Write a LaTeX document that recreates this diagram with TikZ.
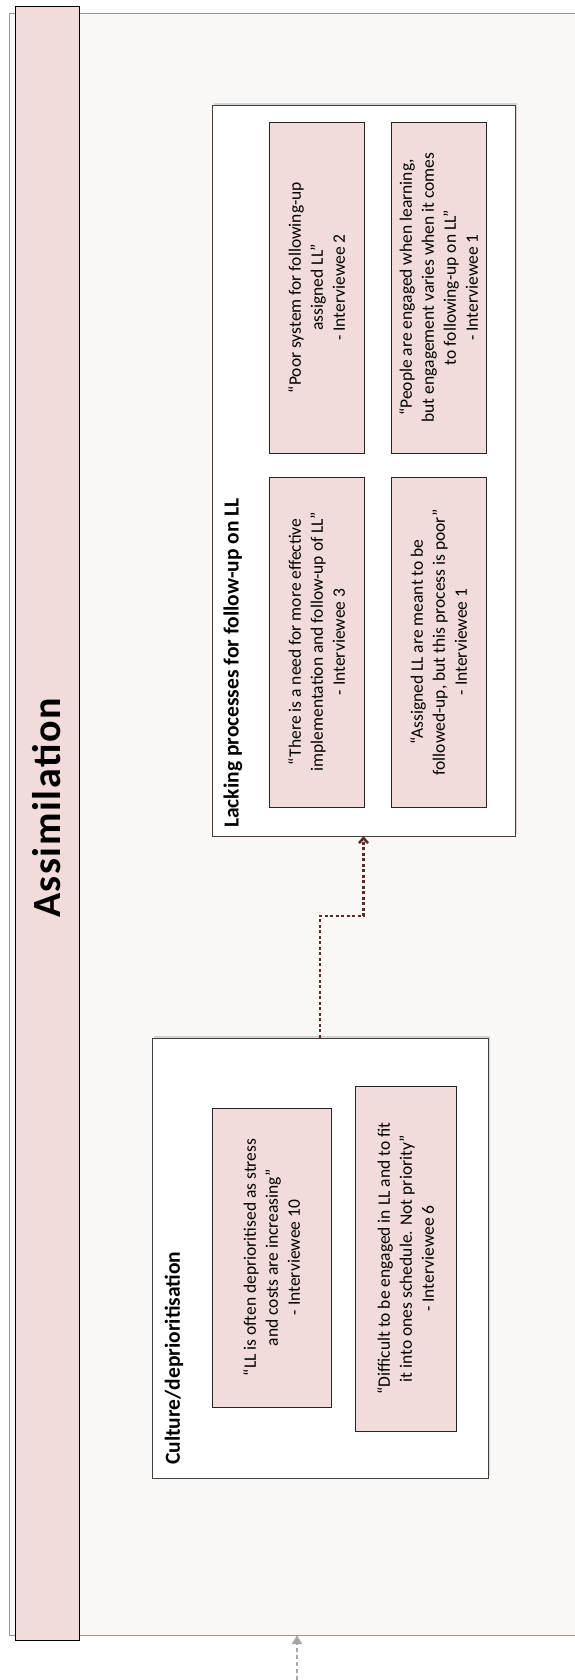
\documentclass[tikz,border=0pt]{standalone}
\usepackage{fontspec}
\setmainfont{Carlito}
\usetikzlibrary{shadows,arrows.meta}
\definecolor{panelbg}{HTML}{FAF7F5}
\definecolor{pinkbox}{HTML}{F2DCDB}
\definecolor{linkred}{HTML}{5B2A2A}
\tikzset{
  quote/.style={draw=black!85, fill=pinkbox, rotate=90, align=center, inner sep=0pt,
    font=\fontsize{17.5}{22}\selectfont},
  group/.style={draw=black!75, fill=white, inner sep=0pt,
    drop shadow={opacity=0.3, shadow xshift=2pt, shadow yshift=2pt}},
  grouptitle/.style={rotate=90, anchor=west, inner sep=0pt, font=\fontsize{21.5}{26}\selectfont\bfseries},
  link/.style={linkred, line width=2.6pt, dash pattern=on 3pt off 2.5pt, -{Straight Barb[length=5pt,width=9pt]}},
}
\begin{document}
\begin{tikzpicture}[x=1pt, y=-1pt]
\useasboundingbox (0,0) rectangle (574,1680);
% background panel and title bar
\node (panel) [draw=black!40, fill=panelbg, minimum width=571pt, minimum height=1622pt, inner sep=0pt] at (294.5,824) {};
\node (bar) [draw=black, line width=1pt, fill=pinkbox, minimum width=64.5pt, minimum height=1633.5pt] at (47.25,823.25) {};
\node (title) [rotate=90, font=\fontsize{40}{44}\selectfont\bfseries\addfontfeature{LetterSpace=4}] at (47,808) {Assimilation};
% groups
\node (lacking) [group, minimum width=303pt, minimum height=731pt] at (363.5,470.5) {};
\node (lackingtitle) [grouptitle] at (233,828) {Lacking processes for follow-up on LL};
\node (culture) [group, minimum width=336pt, minimum height=440pt] at (320,1258) {};
\node (culturetitle) [grouptitle] at (174,1465) {Culture/deprioritisation};
% quotes
\node (needq) [quote, minimum width=330pt, minimum height=95pt] at (316.5,642)
  {“There is a need for more effective\\implementation and follow-up of LL”\\- Interviewee 3};
\node (poorq) [quote, minimum width=331pt, minimum height=95pt] at (316.5,287.5)
  {“Poor system for following-up\\assigned LL”\\- Interviewee 2};
\node (assignedq) [quote, minimum width=330pt, minimum height=95pt] at (438.5,642)
  {“Assigned LL are meant to be\\followed-up, but this process is poor”\\- Interviewee 1};
\node (peopleq) [quote, minimum width=331pt, minimum height=95pt] at (438.5,287.5)
  {“People are engaged when learning,\\but engagement varies when it comes\\to following-up on LL”\\- Interviewee 1};
\node (oftenq) [quote, minimum width=299pt, minimum height=119pt] at (271.5,1257.5)
  {“LL is often deprioritised as stress\\and costs are increasing”\\- Interviewee 10};
\node (difficultq) [quote, minimum width=345pt, minimum height=101pt] at (405.5,1258.5)
  {“Difficult to be engaged in LL and to fit\\it into ones schedule. Not priority”\\- Interviewee 6};
% connectors
\draw[link] (culture.north) -- (culture.north |- 0,916) -| (lacking.south);
\coordinate (feed) at (297,1680);
\draw[black!35, line width=2pt, dash pattern=on 4pt off 3pt, -{Triangle[length=9pt,width=10pt]}] (feed) -- (feed |- panel.south);
\end{tikzpicture}
\end{document}
